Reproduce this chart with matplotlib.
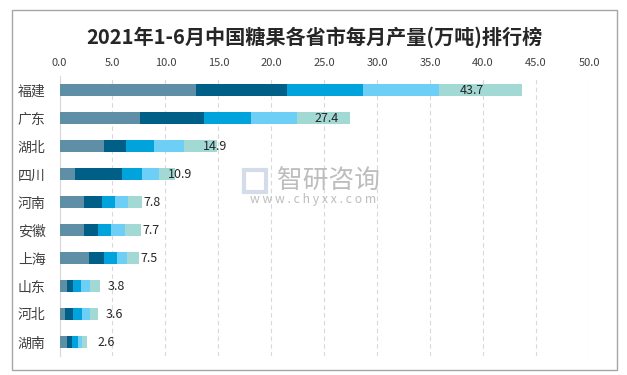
import matplotlib
matplotlib.use("Agg")
import matplotlib.pyplot as plt
import numpy as np
from matplotlib.patches import Rectangle

plt.rcParams['font.family'] = ['Noto Sans CJK SC', 'DejaVu Sans']

provinces = ['福建', '广东', '湖北', '四川', '河南', '安徽', '上海', '山东', '河北', '湖南']
m1 = [12.9, 7.6, 4.2, 1.5, 2.3, 2.3, 2.8, 0.7, 0.5, 0.7]
m2 = [8.6, 6.0, 2.1, 4.4, 1.7, 1.3, 1.4, 0.6, 0.8, 0.5]
m3 = [7.2, 4.5, 2.6, 1.9, 1.2, 1.3, 1.2, 0.7, 0.8, 0.5]
m4 = [7.1, 4.3, 2.9, 1.6, 1.3, 1.3, 1.0, 0.9, 0.8, 0.4]
m5 = [7.9, 5.0, 3.1, 1.5, 1.3, 1.5, 1.1, 0.9, 0.7, 0.5]
totals = [43.7, 27.4, 14.9, 10.9, 7.8, 7.7, 7.5, 3.8, 3.6, 2.6]
xticks = [0, 5, 10, 15, 20, 25, 30, 35, 40, 45, 50]

colors = ['#5f8fa6', '#005f87', '#00a3dc', '#6dcff6', '#a3d9d4']

fig = plt.figure(figsize=(6.27, 3.75), dpi=100)
# outer border
fig.patches.append(Rectangle((12/627, 1-370/375), (617-12)/627, (370-10)/375,
                             transform=fig.transFigure, fill=False,
                             edgecolor='#a6a6a6', linewidth=1.0))

ax = fig.add_axes([59.5/627, 1-356/375, (589-59.5)/627, (356-76)/375])
y = np.arange(len(provinces))
left = np.zeros(len(provinces))
for series, c in zip([m1, m2, m3, m4, m5], colors):
    ax.barh(y, series, left=left, height=0.4, color=c, zorder=3)
    left += np.array(series)

ax.set_xlim(0, 50)
ax.set_ylim(len(provinces) - 0.5, -0.5)
ax.set_yticks(y)
ax.set_yticklabels(provinces, fontsize=10, color='#404040')
ax.set_xticks(xticks)
ax.set_xticklabels([f'{v:.1f}' for v in xticks], fontsize=8, color='#404040')
ax.xaxis.tick_top()
ax.tick_params(axis='both', length=0)
ax.tick_params(axis='x', pad=6)
ax.tick_params(axis='y', pad=10)
ax.grid(axis='x', color='#d9d9d9', linestyle=(0, (4, 3)), linewidth=0.8, zorder=0)
for s in ['top', 'right', 'bottom']:
    ax.spines[s].set_visible(False)
ax.spines['left'].set_color('#d9d9d9')

for yi, t in zip(y, totals):
    ax.text(t * 0.84 + 2.2, yi, f'{t:.1f}', ha='center', va='center',
            fontsize=9, color='#262626', zorder=4)

fig.text(314/627, 1-37/375, '2021年1-6月中国糖果各省市每月产量(万吨)排行榜',
         ha='center', va='center', fontsize=14.5, fontweight='bold', color='#262626')

# watermark
fig.patches.append(Rectangle((244/627, 1-192/375), 22/627, 22/375,
                             transform=fig.transFigure, fill=False,
                             edgecolor='#c8d4e3', linewidth=3, alpha=0.8))
fig.text(329/627, 1-181/375, '智研咨询', ha='center', va='center',
         fontsize=18.5, color='#bdbdbd')
fig.text(313/627, 1-200/375, 'w w w . c h y x x . c o m', ha='center', va='center',
         fontsize=8.8, color='#bdbdbd')

fig.savefig('out.png', dpi=100)
